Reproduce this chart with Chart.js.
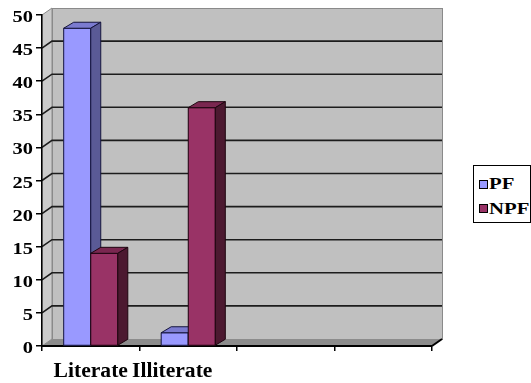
<!DOCTYPE html>
<html>
<head>
<meta charset="utf-8">
<script src="https://cdn.jsdelivr.net/npm/chart.js@4/dist/chart.umd.min.js"></script>
<style>
  html, body { margin: 0; padding: 0; background: #fff; overflow: hidden; }
  #wrap { position: relative; width: 531px; height: 383px; }
  #legend {
    position: absolute; left: 473px; top: 165px; width: 58px; height: 58px;
    border: 1px solid #000; background: #fff; box-sizing: border-box;
    font: bold 17px "Liberation Serif", "Times New Roman", serif; color: #000;
  }
  .sw { position: absolute; left: 5px; width: 9px; height: 9px; border: 1px solid #000; box-sizing: border-box; }
  .tx { position: absolute; left: 15px; line-height: 17px; white-space: nowrap;
        transform: scaleX(1.22); transform-origin: 0 0; }
</style>
</head>
<body>
<div id="wrap">
  <canvas id="c" width="531" height="383"></canvas>
  <div id="legend">
    <span class="sw" style="top:14px;background:#9999ff"></span><span class="tx" style="top:9px">PF</span>
    <span class="sw" style="top:38px;background:#993366"></span><span class="tx" style="top:34px">NPF</span>
  </div>
</div>
<script>
// Categories and series
const categories = ['Literate', 'Illiterate', '', ''];
const pfValues = [48, 2, null, null];
const npfValues = [14, 36, null, null];
const yMin = 0, yMax = 50, yStep = 5;

// Shading for the three visible faces of each bar
const faces = [
  { front: '#9999ff', top: '#7b7bd0', side: '#5a5a96', edge: '#14143c' },
  { front: '#993366', top: '#7a2750', side: '#4c1930', edge: '#1e0610' }
];
const WALL_DX = 10, WALL_DY = 7;
const BAR_DX = 10, BAR_DY = 6;

// Axis text: Times-style bold, slightly widened
const SERIF = '"Liberation Serif", "Times New Roman", serif';
const Y_FONT = 'bold 17px ' + SERIF, Y_STRETCH = 1.2;
const X_FONT = 'bold 20px ' + SERIF, X_STRETCH = 1.08;
const X_LABEL_NUDGE = [0, -16, 0, 0];

// Back wall, side wall, floor and grid lines of the 3D box
const boxPlugin = {
  id: 'box3d',
  beforeDraw(chart) {
    const ctx = chart.ctx;
    const { left, right, top, bottom } = chart.chartArea;
    const y = chart.scales.y;
    ctx.save();
    // back wall
    ctx.fillStyle = '#c0c0c0';
    ctx.strokeStyle = '#8a8a8a';
    ctx.lineWidth = 1;
    ctx.fillRect(left + WALL_DX, top - WALL_DY, right - left, bottom - top);
    ctx.strokeRect(left + WALL_DX + 0.5, top - WALL_DY + 0.5, right - left, bottom - top);
    // left side wall
    ctx.fillStyle = '#cbcbcb';
    ctx.beginPath();
    ctx.moveTo(left, top); ctx.lineTo(left + WALL_DX, top - WALL_DY);
    ctx.lineTo(left + WALL_DX, bottom - WALL_DY); ctx.lineTo(left, bottom);
    ctx.closePath(); ctx.fill(); ctx.stroke();
    // floor
    ctx.fillStyle = '#8c8c8c';
    ctx.beginPath();
    ctx.moveTo(left, bottom); ctx.lineTo(left + WALL_DX, bottom - WALL_DY);
    ctx.lineTo(right + WALL_DX, bottom - WALL_DY); ctx.lineTo(right, bottom);
    ctx.closePath(); ctx.fill();
    // grid lines across the back wall and the side wall
    ctx.strokeStyle = '#1c1c1c';
    ctx.lineWidth = 1.6;
    for (let v = yMin + yStep; v < yMax; v += yStep) {
      const py = y.getPixelForValue(v);
      ctx.beginPath();
      ctx.moveTo(left, py);
      ctx.lineTo(left + WALL_DX, py - WALL_DY);
      ctx.lineTo(right + WALL_DX, py - WALL_DY);
      ctx.stroke();
    }
    // right front edge of the floor
    ctx.strokeStyle = '#000';
    ctx.lineWidth = 2;
    ctx.beginPath();
    ctx.moveTo(right, bottom); ctx.lineTo(right + WALL_DX, bottom - WALL_DY);
    ctx.stroke();
    ctx.restore();
  }
};

// Front, top and side faces of each bar, painted left to right
const barPlugin = {
  id: 'bars3d',
  afterDatasetsDraw(chart) {
    const ctx = chart.ctx;
    const list = [];
    chart.data.datasets.forEach((ds, di) => {
      chart.getDatasetMeta(di).data.forEach((el, i) => {
        if (ds.data[i] == null) return;
        const p = el.getProps(['x', 'y', 'base', 'width'], true);
        list.push({ p, f: faces[di] });
      });
    });
    list.sort((a, b) => a.p.x - b.p.x);
    ctx.save();
    ctx.lineWidth = 1;
    ctx.lineJoin = 'round';
    for (const { p, f } of list) {
      const l = p.x - p.width / 2, r = p.x + p.width / 2;
      const t = p.y, b = p.base;
      ctx.strokeStyle = f.edge;
      ctx.fillStyle = f.front;
      ctx.beginPath(); ctx.rect(l, t, r - l, b - t); ctx.fill(); ctx.stroke();
      ctx.fillStyle = f.top;
      ctx.beginPath();
      ctx.moveTo(l, t); ctx.lineTo(l + BAR_DX, t - BAR_DY);
      ctx.lineTo(r + BAR_DX, t - BAR_DY); ctx.lineTo(r, t);
      ctx.closePath(); ctx.fill(); ctx.stroke();
      ctx.fillStyle = f.side;
      ctx.beginPath();
      ctx.moveTo(r, t); ctx.lineTo(r + BAR_DX, t - BAR_DY);
      ctx.lineTo(r + BAR_DX, b - BAR_DY); ctx.lineTo(r, b);
      ctx.closePath(); ctx.fill(); ctx.stroke();
    }
    ctx.restore();
  }
};

// Tick labels placed at the scales' own tick positions, drawn widened
const labelPlugin = {
  id: 'axisText',
  afterDraw(chart) {
    const ctx = chart.ctx;
    const { x, y } = chart.scales;
    ctx.save();
    ctx.fillStyle = '#000';
    ctx.textBaseline = 'alphabetic';
    ctx.font = Y_FONT;
    ctx.textAlign = 'right';
    y.ticks.forEach((t, i) => {
      const py = y.getPixelForTick(i);
      ctx.save();
      ctx.translate(y.right - 9, py + 7);
      ctx.scale(Y_STRETCH, 1);
      ctx.fillText(String(t.value), 0, 0);
      ctx.restore();
    });
    ctx.font = X_FONT;
    ctx.textAlign = 'center';
    x.ticks.forEach((t, i) => {
      const label = categories[i];
      if (!label) return;
      const px = x.getPixelForTick(i) + X_LABEL_NUDGE[i];
      ctx.save();
      ctx.translate(px, x.top + 31);
      ctx.scale(X_STRETCH, 1);
      ctx.fillText(label, 0, 0);
      ctx.restore();
    });
    ctx.restore();
  }
};

new Chart(document.getElementById('c'), {
  type: 'bar',
  data: {
    labels: categories,
    datasets: [
      { label: 'PF', data: pfValues, backgroundColor: faces[0].front },
      { label: 'NPF', data: npfValues, backgroundColor: faces[1].front }
    ]
  },
  options: {
    responsive: false,
    animation: false,
    events: [],
    layout: { padding: { left: 0, top: 15, right: 99, bottom: 0 } },
    datasets: { bar: { barPercentage: 1, categoryPercentage: 0.555 } },
    plugins: { legend: { display: false }, tooltip: { enabled: false } },
    scales: {
      x: {
        afterFit(s) { s.height = 37; },
        grid: { offset: true, drawOnChartArea: false, drawTicks: true, tickLength: 5, color: '#000', lineWidth: 1.5 },
        border: { display: true, color: '#000', width: 2 },
        ticks: { display: false, autoSkip: false }
      },
      y: {
        min: yMin, max: yMax,
        afterFit(s) { s.width = 42; },
        grid: { drawOnChartArea: false, drawTicks: true, tickLength: 6, color: '#000', lineWidth: 1.5 },
        border: { display: true, color: '#000', width: 1.5 },
        ticks: { display: false, stepSize: yStep }
      }
    }
  },
  plugins: [boxPlugin, barPlugin, labelPlugin]
});
</script>
</body>
</html>
